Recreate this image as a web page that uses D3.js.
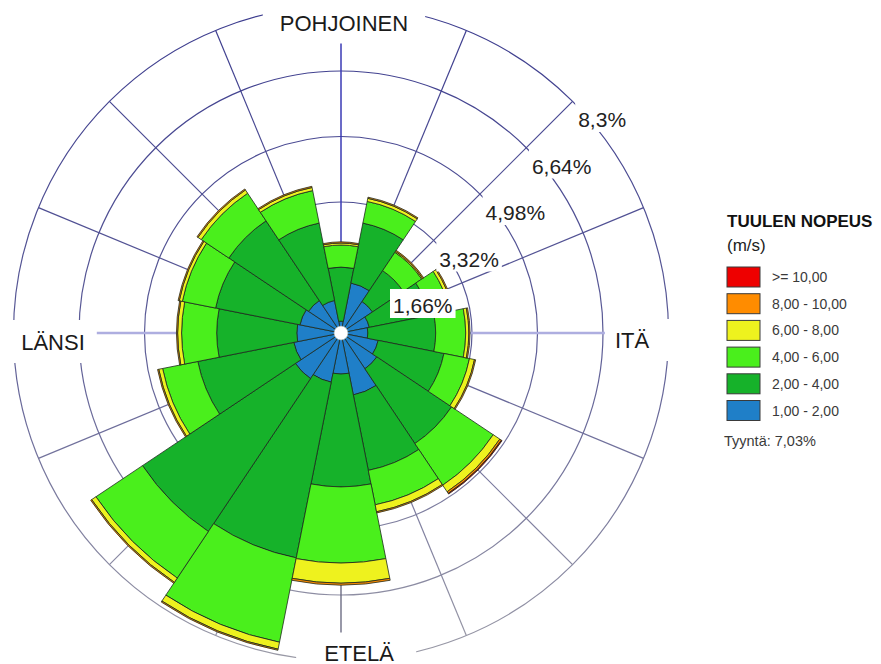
<!DOCTYPE html>
<html>
<head>
<meta charset="utf-8">
<script src="https://cdn.jsdelivr.net/npm/d3@7"></script>
<style>
  body { margin: 0; background: #fff; }
  svg { display: block; font-family: "Liberation Sans", Arial, sans-serif; }
</style>
</head>
<body>
<div id="canvas"></div>
<script>
/**
 * Data (wind frequency in %, per direction and speed class)
 */
const directions = ["N", "NNE", "NE", "ENE", "E", "ESE", "SE", "SSE",
                    "S", "SSW", "SW", "WSW", "W", "WNW", "NW", "NNW"];

const speed1to2  = [0.30, 1.29, 0.96, 0.73, 0.68, 0.96, 1.09, 1.60, 1.04, 1.27, 1.39, 1.22, 1.12, 1.06, 0.99, 0.84];
const speed2to4  = [1.37, 1.55, 0.94, 1.55, 1.72, 1.70, 2.28, 1.95, 2.86, 4.54, 4.66, 2.48, 2.03, 2.18, 2.43, 2.00];
const speed4to6  = [0.56, 0.56, 0.56, 0.53, 0.76, 0.66, 1.27, 0.89, 1.93, 2.18, 1.42, 0.91, 0.89, 0.86, 0.84, 0.84];
const speed6to8  = [0.05, 0.08, 0.03, 0.08, 0.08, 0.13, 0.20, 0.18, 0.51, 0.18, 0.13, 0.10, 0.10, 0.08, 0.10, 0.08];
const speed8to10 = [0.03, 0.03, 0.03, 0.03, 0.03, 0.03, 0.05, 0.03, 0.05, 0.03, 0.03, 0.03, 0.03, 0.03, 0.03, 0.03];
const speed10up  = [0.00, 0.00, 0.00, 0.00, 0.00, 0.00, 0.02, 0.00, 0.00, 0.00, 0.00, 0.00, 0.00, 0.00, 0.00, 0.00];

const ringValues = [1.66, 3.32, 4.98, 6.64, 8.3];
const ringLabels = ["1,66%", "3,32%", "4,98%", "6,64%", "8,3%"];

const cardinalDirs = ["N", "E", "S", "W"];
const cardinalLabels = ["POHJOINEN", "ITÄ", "ETELÄ", "LÄNSI"];

const legendTitle = "TUULEN NOPEUS";
const legendUnit = "(m/s)";
const legendLabels = [">= 10,00", "8,00 - 10,00", "6,00 - 8,00", "4,00 - 6,00", "2,00 - 4,00", "1,00 - 2,00"];
const calmText = "Tyyntä: 7,03%";

// speed classes from the centre outwards
const speedKeys = ["s1", "s2", "s3", "s4", "s5", "s6"];
const speedSeries = [speed1to2, speed2to4, speed4to6, speed6to8, speed8to10, speed10up];
const speedColors = ["#1f7fc8", "#16b22a", "#4aef1c", "#eef21e", "#ff8c00", "#ee0000"];

/**
 * Helper Functions
 */
const polar = (angle, r) => [r * Math.sin(angle), -r * Math.cos(angle)];

const addBox = (sel, padL, padR, padT, padB) => {
    // white box behind a text, cuts the grid lines like in the original
    sel.each(function () {
        const b = this.getBBox();
        d3.select(this.parentNode).insert("rect", () => this)
            .attr("x", b.x - padL)
            .attr("y", b.y - padT)
            .attr("width", b.width + padL + padR)
            .attr("height", b.height + padT + padB)
            .attr("fill", "#fff");
    });
};

/**
 * Chart
 */
const width = 881, height = 664;
const cx = 341, cy = 333, outerRadius = 327.5;

const svg = d3.select("#canvas")
    .append("svg")
    .attr("width", width)
    .attr("height", height);

const defs = svg.append("defs");
const grad = defs.append("linearGradient")
    .attr("id", "gridGrad")
    .attr("gradientUnits", "userSpaceOnUse")
    .attr("x1", 0).attr("y1", -outerRadius)
    .attr("x2", 0).attr("y2", outerRadius);
grad.append("stop").attr("offset", 0).attr("stop-color", "#3b3b8e");
grad.append("stop").attr("offset", 0.5).attr("stop-color", "#5b5b96");
grad.append("stop").attr("offset", 1).attr("stop-color", "#9a9aa6");

const rose = svg.append("g")
    .attr("transform", "translate(" + cx + "," + cy + ")");

let x = d3.scaleBand()
    .domain(directions)
    .range([0, 2 * Math.PI]);
const bw = x.bandwidth();
const angle = d => x(d);   // band start = centre of the sector (sectors span +-bw/2)

let y = d3.scaleLinear()
    .domain([0, d3.max(ringValues)])
    .range([0, outerRadius]);

// grid rings
rose.append("g")
    .selectAll("circle")
    .data(ringValues)
    .join("circle")
    .attr("r", d => y(d))
    .attr("fill", "none")
    .attr("stroke", "url(#gridGrad)")
    .attr("stroke-width", 1.2);

// spokes
rose.append("g")
    .selectAll("line")
    .data(directions.filter(d => !cardinalDirs.includes(d)))
    .join("line")
    .attr("x1", 0).attr("y1", 0)
    .attr("x2", d => polar(angle(d), outerRadius)[0])
    .attr("y2", d => polar(angle(d), outerRadius)[1])
    .attr("stroke", "url(#gridGrad)")
    .attr("stroke-width", 1.2);

const axisStyle = {
    N: {color: "#3a3ab4", w: 1.5},
    E: {color: "#aeaee0", w: 2.5},
    S: {color: "#62627a", w: 1.3},
    W: {color: "#aeaee0", w: 2.5}
};
rose.append("g")
    .selectAll("line")
    .data(cardinalDirs)
    .join("line")
    .attr("x1", 0).attr("y1", 0)
    .attr("x2", d => polar(angle(d), outerRadius)[0])
    .attr("y2", d => polar(angle(d), outerRadius)[1])
    .attr("stroke", d => axisStyle[d].color)
    .attr("stroke-width", d => axisStyle[d].w);

// stacked bars
const table = directions.map((dir, i) => {
    let row = {dir: dir};
    speedKeys.forEach((k, j) => { row[k] = speedSeries[j][i]; });
    return row;
});
const stacked = d3.stack().keys(speedKeys)(table);

const arc = d3.arc()
    .innerRadius(d => y(d[0]))
    .outerRadius(d => y(d[1]))
    .startAngle(d => angle(d.data.dir) - bw / 2)
    .endAngle(d => angle(d.data.dir) + bw / 2);

rose.append("g")
    .selectAll("g")
    .data(stacked)
    .join("g")
    .attr("fill", (d, i) => speedColors[i])
    .selectAll("path")
    .data(d => d.filter(s => s[1] - s[0] > 0))
    .join("path")
    .attr("d", arc)
    .attr("stroke", "#1d2a1d")
    .attr("stroke-width", 0.8)
    .attr("stroke-linejoin", "round");

// centre hole
rose.append("circle")
    .attr("r", 7)
    .attr("fill", "#fff")
    .attr("stroke", "#9aa")
    .attr("stroke-width", 0.6);

// ring labels, stepped along a diagonal
const ringLabelG = rose.append("g");
ringLabelG.selectAll("text")
    .data(ringLabels)
    .join("text")
    .attr("x", (d, i) => 52 + i * 46.3)
    .attr("y", (d, i) => -20 - i * 46.5)
    .attr("font-size", 21)
    .attr("fill", "#222")
    .text(d => d)
    .call(addBox, 3, 3, 5, 1);

// cardinal labels
const cardinalPos = {
    N: [3, -outerRadius + 25],
    E: [291, 15],
    S: [18, outerRadius],
    W: [-288, 17]
};
const cardinalPad = {
    N: [17, 17, 12, 8],
    E: [10, 27, 9, 8],
    S: [28, 22, 8, 8],
    W: [12, 12, 10, 8]
};
const cardG = rose.append("g");
cardG.selectAll("text")
    .data(cardinalDirs)
    .join("text")
    .attr("x", d => cardinalPos[d][0])
    .attr("y", d => cardinalPos[d][1])
    .attr("text-anchor", "middle")
    .attr("font-size", 22)
    .attr("fill", "#1a1a1a")
    .text((d, i) => cardinalLabels[i])
    .each(function (d) {
        const p = cardinalPad[d];
        d3.select(this).call(addBox, p[0], p[1], p[2], p[3]);
    });

// legend
const legend = svg.append("g")
    .attr("transform", "translate(727,0)");

legend.append("text")
    .attr("x", 0).attr("y", 227)
    .attr("font-size", 17)
    .attr("font-weight", "bold")
    .attr("fill", "#111")
    .text(legendTitle);

legend.append("text")
    .attr("x", 0).attr("y", 251)
    .attr("font-size", 17)
    .attr("fill", "#222")
    .text(legendUnit);

const legendColors = speedColors.slice().reverse();
const rows = legend.selectAll("g.row")
    .data(legendLabels)
    .join("g")
    .attr("class", "row")
    .attr("transform", (d, i) => "translate(0," + (267 + i * 26.7) + ")");

rows.append("rect")
    .attr("width", 33)
    .attr("height", 20)
    .attr("fill", (d, i) => legendColors[i])
    .attr("stroke", "#3a3a3a")
    .attr("stroke-width", 1);

rows.append("text")
    .attr("x", 45)
    .attr("y", 15)
    .attr("font-size", 14)
    .attr("fill", "#3a3a3a")
    .text(d => d);

legend.append("text")
    .attr("x", -3).attr("y", 446)
    .attr("font-size", 14.5)
    .attr("fill", "#3a3a3a")
    .text(calmText);
</script>
</body>
</html>
